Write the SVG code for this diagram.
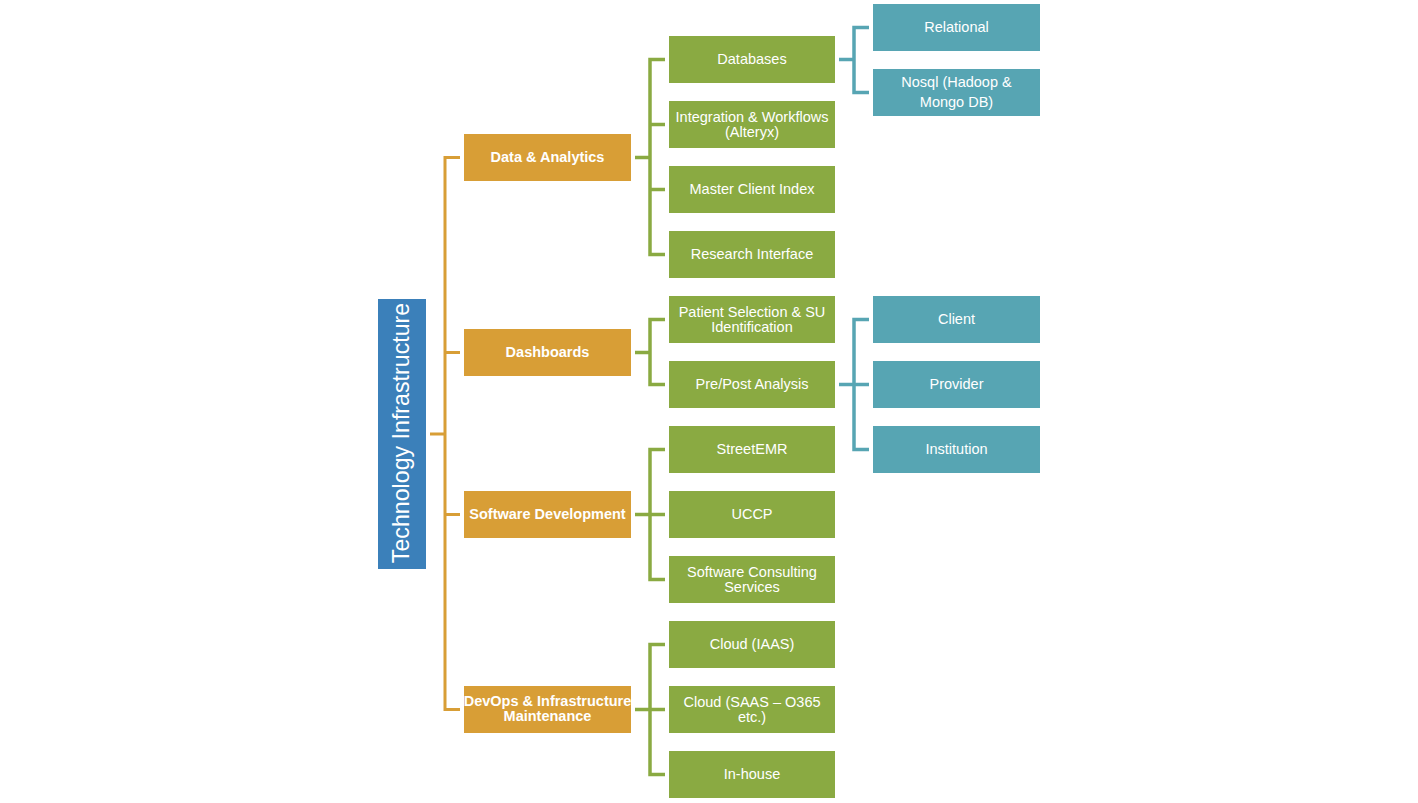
<svg xmlns="http://www.w3.org/2000/svg" width="1418" height="803" viewBox="0 0 1418 803">
<style>
text{font-family:"Liberation Sans",Arial,sans-serif;fill:#fff;text-anchor:middle;dominant-baseline:central;font-size:14.5px}
.b{font-weight:bold}
.root{fill:#3B80BA}.l1{fill:#D89E36}.l2{fill:#8AAA42}.l3{fill:#57A5B3}
.co{stroke:#D89E36;stroke-width:3;fill:none}
.cg{stroke:#8AAA42;stroke-width:3.5;fill:none}
.ct{stroke:#57A5B3;stroke-width:3.5;fill:none}
</style>
<g id="connectors">
<path class="co" d="M430 434H445M460 157.5H445V709.5H460M445 352.5H460M445 514.5H460"/>
<path class="cg" d="M635 157.5H650M665 59.5H650V254.5H665M650 124.5H665M650 189.5H665"/>
<path class="cg" d="M635 352.5H650M665 319.5H650V384.5H665"/>
<path class="cg" d="M635 514.5H650M665 449.5H650V579.5H665M650 514.5H665"/>
<path class="cg" d="M635 709.5H650M665 644.5H650V774.5H665M650 709.5H665"/>
<path class="ct" d="M839 59.5H854M869 27.5H854V92.5H869"/>
<path class="ct" d="M839 384.5H854M869 319.5H854V449.5H869M854 384.5H869"/>
</g>
<g id="root"><rect class="root" x="378" y="299" width="48" height="270"/><text transform="translate(401 433) rotate(-90)" style="font-size:23.2px">Technology Infrastructure</text></g>
<g id="data-analytics"><rect class="l1" x="464" y="134" width="167" height="47"/><text class="b" x="547.5" y="156.5">Data &amp; Analytics</text></g>
<g id="dashboards"><rect class="l1" x="464" y="329" width="167" height="47"/><text class="b" x="547.5" y="351.5">Dashboards</text></g>
<g id="software-development"><rect class="l1" x="464" y="491" width="167" height="47"/><text class="b" x="547.5" y="513.5">Software Development</text></g>
<g id="devops"><rect class="l1" x="464" y="686" width="167" height="47"/><text class="b" x="547.5" y="701">DevOps &amp; Infrastructure</text><text class="b" x="547.5" y="716">Maintenance</text></g>
<g id="databases"><rect class="l2" x="669" y="36" width="166" height="47"/><text x="752" y="59">Databases</text></g>
<g id="integration"><rect class="l2" x="669" y="101" width="166" height="47"/><text x="752" y="116.5">Integration &amp; Workflows</text><text x="752" y="131.5">(Alteryx)</text></g>
<g id="master-client-index"><rect class="l2" x="669" y="166" width="166" height="47"/><text x="752" y="189">Master Client Index</text></g>
<g id="research-interface"><rect class="l2" x="669" y="231" width="166" height="47"/><text x="752" y="254">Research Interface</text></g>
<g id="patient-selection"><rect class="l2" x="669" y="296" width="166" height="47"/><text x="752" y="311.5">Patient Selection &amp; SU</text><text x="752" y="326.5">Identification</text></g>
<g id="pre-post"><rect class="l2" x="669" y="361" width="166" height="47"/><text x="752" y="384">Pre/Post Analysis</text></g>
<g id="streetemr"><rect class="l2" x="669" y="426" width="166" height="47"/><text x="752" y="449">StreetEMR</text></g>
<g id="uccp"><rect class="l2" x="669" y="491" width="166" height="47"/><text x="752" y="514">UCCP</text></g>
<g id="software-consulting"><rect class="l2" x="669" y="556" width="166" height="47"/><text x="752" y="571.5">Software Consulting</text><text x="752" y="586.5">Services</text></g>
<g id="cloud-iaas"><rect class="l2" x="669" y="621" width="166" height="47"/><text x="752" y="644">Cloud (IAAS)</text></g>
<g id="cloud-saas"><rect class="l2" x="669" y="686" width="166" height="47"/><text x="752" y="701.5">Cloud (SAAS – O365</text><text x="752" y="716.5">etc.)</text></g>
<g id="in-house"><rect class="l2" x="669" y="751" width="166" height="47"/><text x="752" y="774">In-house</text></g>
<g id="relational"><rect class="l3" x="873" y="4" width="167" height="47"/><text x="956.5" y="27">Relational</text></g>
<g id="nosql"><rect class="l3" x="873" y="69" width="167" height="47"/><text x="956.5" y="82">Nosql (Hadoop &amp;</text><text x="956.5" y="102">Mongo DB)</text></g>
<g id="client"><rect class="l3" x="873" y="296" width="167" height="47"/><text x="956.5" y="319">Client</text></g>
<g id="provider"><rect class="l3" x="873" y="361" width="167" height="47"/><text x="956.5" y="384">Provider</text></g>
<g id="institution"><rect class="l3" x="873" y="426" width="167" height="47"/><text x="956.5" y="449">Institution</text></g>
</svg>
